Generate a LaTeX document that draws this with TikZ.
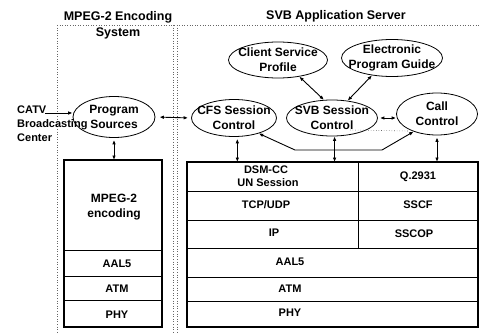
\documentclass[tikz,border=0pt]{standalone}
\usepackage{fontspec}
\setmainfont{Liberation Sans}
\usetikzlibrary{shapes.geometric,arrows.meta,calc}
\begin{document}
\begin{tikzpicture}[x=1pt,y=-1pt,
  font=\bfseries\fontsize{12}{15}\selectfont,
  oval/.style={draw, ellipse, inner sep=0pt, line width=0.8pt},
  txt/.style={inner sep=0pt, align=center},
  tip/.tip={Latex[length=4.5pt,width=3.6pt]},
  link/.style={line width=0.9pt, tip-tip},
  feed/.style={line width=0.9pt, -tip},
  frame/.style={dotted, black!60, line width=0.6pt},
  cell/.style={draw, rectangle, anchor=north west, inner sep=0pt, outer sep=0pt, line width=0.8pt},
  lbl/.style={inner sep=0pt, font=\bfseries\fontsize{11}{13}\selectfont},
  head/.style={inner sep=0pt, align=center, font=\bfseries\fontsize{12.5}{16}\selectfont},
]
\useasboundingbox (0,0) rectangle (479,334);

% dotted system boundaries
\draw[frame] (57,25) -- (479,25);
\draw[frame] (57,25) -- (57,334);
\draw[frame] (173,25) -- (173,334);
\draw[frame] (177,25) -- (177,334);

% headings
\node[head] (hmpeg) at (118,25) {MPEG-2 Encoding\\System};
\node[head] (hsvb) at (336,16) {SVB Application Server};

% external source label
\node[inner sep=0pt, anchor=west, align=left, font=\bfseries\fontsize{11}{14}\selectfont]
  (catv) at (17,124) {CATV\\Broadcasting\\Center};

% function ellipses
\node[oval, minimum width=82, minimum height=41] (ps) at (114,117) {};
\node[txt] at (ps) {Program\\Sources};
\node[oval, minimum width=85, minimum height=37] (cfs) at (234,118) {};
\node[txt] at (cfs) {CFS Session\\Control};
\node[oval, minimum width=91, minimum height=36] (svb) at (332,118) {};
\node[txt] at (svb) {SVB Session\\Control};
\node[oval, minimum width=81, minimum height=42] (call) at (437,114) {};
\node[txt] at (call) {Call\\Control};
\node[oval, minimum width=99, minimum height=36] (csp) at (278,60) {};
\node[txt] at (csp) {Client Service\\Profile};
\node[oval, minimum width=101, minimum height=37] (epg) at (392,58) {};
\node[txt] at (epg) {Electronic\\Program Guide};

% encoder protocol stack
\node[cell, minimum width=98, minimum height=90] (menc) at (64,160) {};
\node[cell, minimum width=98, minimum height=26] (laal) at (64,250) {};
\node[cell, minimum width=98, minimum height=24] (latm) at (64,276) {};
\node[cell, minimum width=98, minimum height=27] (lphy) at (64,300) {};
\draw[line width=1.2pt] (menc.north west) rectangle (lphy.south east);
\node[txt] at (114,207) {MPEG-2\\encoding};
\node[lbl] at (117,264) {AAL5};
\node[lbl] at (117,289) {ATM};
\node[lbl] at (117,315) {PHY};

% server protocol stack
\node[cell, minimum width=171, minimum height=29] (dsm) at (187,162) {};
\node[cell, minimum width=120, minimum height=29] (q) at (358,162) {};
\node[cell, minimum width=171, minimum height=29] (tcp) at (187,191) {};
\node[cell, minimum width=120, minimum height=29] (sscf) at (358,191) {};
\node[cell, minimum width=171, minimum height=28] (ip) at (187,220) {};
\node[cell, minimum width=120, minimum height=28] (sscop) at (358,220) {};
\node[cell, minimum width=291, minimum height=29] (raal) at (187,248) {};
\node[cell, minimum width=291, minimum height=24] (ratm) at (187,277) {};
\node[cell, minimum width=291, minimum height=26] (rphy) at (187,301) {};
\draw[line width=1.2pt] (dsm.north west) rectangle (rphy.south east);
\node[lbl] at (266,170) {DSM-CC};
\node[lbl] at (268,183) {UN Session};
\node[lbl] at (418,177) {Q.2931};
\node[lbl] at (266,205) {TCP/UDP};
\node[lbl] at (418,205) {SSCF};
\node[lbl] at (274,233) {IP};
\node[lbl] at (414,234) {SSCOP};
\node[lbl] at (290,262) {AAL5};
\node[lbl] at (290,289) {ATM};
\node[lbl] at (290,313) {PHY};

% connectors
\coordinate (catvend) at (45,113);
\draw[feed] (catvend) -- (catvend -| ps.west);
\draw[link, shorten <=4pt, shorten >=3pt] (ps.east) -- (cfs.west);
\draw[link] (csp.-38) -- (svb.114);
\draw[link] (epg.221) -- (svb.48);
\draw[link, shorten <=2pt] (svb.east) -- (call.west |- svb.east);
\draw[link, shorten <=2pt] (ps.south) -- (ps.south |- menc.north);
\draw[link, shorten <=2pt] (cfs.-80) -- (cfs.-80 |- dsm.north);
\draw[link] (svb.-82) -- (svb.-82 |- dsm.north);
\draw[link, shorten <=2pt] (call.south) -- (call.south |- q.north);
\coordinate (busl) at (295,150);
\coordinate (busr) at (382,150);
\draw[link] (cfs.-32) -- (busl) -- (busr) -- (call.217);
\coordinate (dotl) at (350,130);
\coordinate (dotr) at (408,131);
\draw[frame] (dotl) -- (dotr);
\end{tikzpicture}
\end{document}
